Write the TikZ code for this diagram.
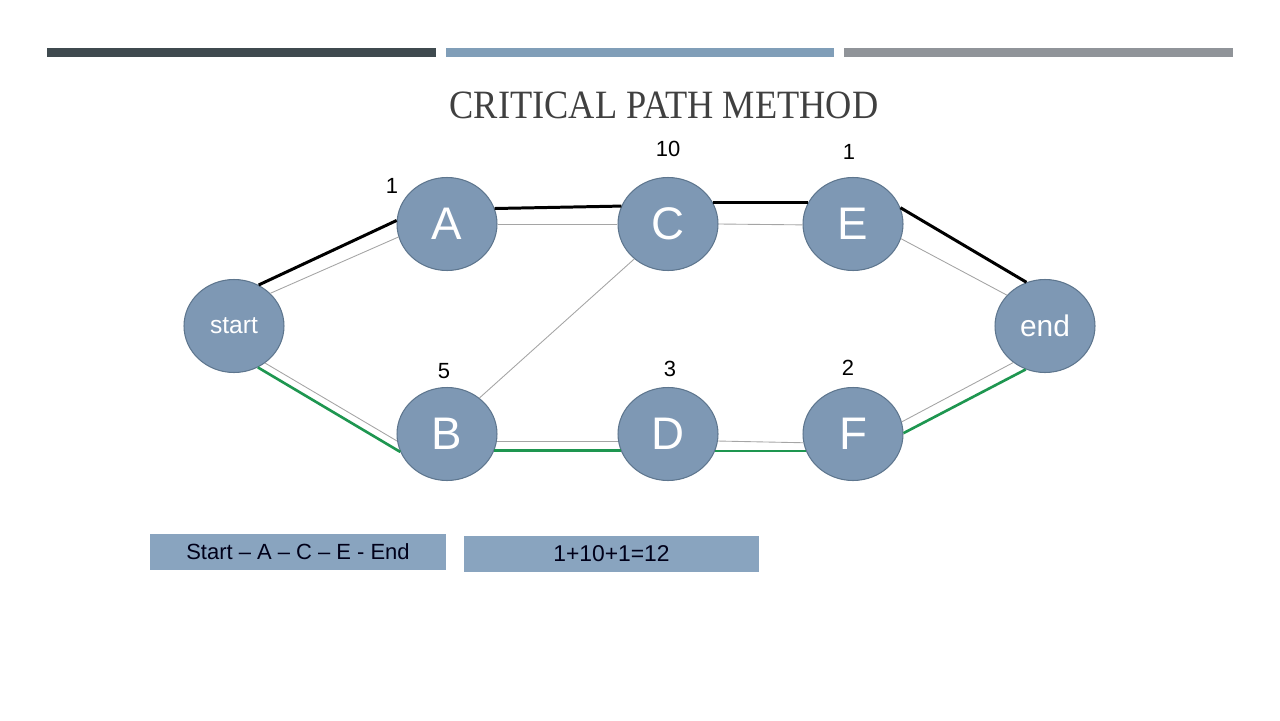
\documentclass[tikz,border=0pt]{standalone}
\usepackage{fontspec}
\usepackage{graphicx}
\setmainfont{Liberation Sans}
\newfontfamily\titlefont{Liberation Serif}
\usetikzlibrary{shapes.geometric}

\definecolor{nodeblue}{RGB}{126,152,180}
\definecolor{nodeline}{RGB}{94,118,142}
\definecolor{boxblue}{RGB}{137,164,191}
\definecolor{bardark}{RGB}{63,74,79}
\definecolor{barblue}{RGB}{128,158,184}
\definecolor{bargray}{RGB}{144,148,153}
\definecolor{critgreen}{RGB}{30,150,80}
\definecolor{thingray}{RGB}{165,165,165}
\definecolor{titlegray}{RGB}{64,64,64}

\begin{document}
\begin{tikzpicture}[x=0.02cm,y=-0.02cm]
  \tikzset{vertex/.style = {ellipse,draw=nodeline,fill=nodeblue,line width=0.6pt,minimum width=2cm,minimum height=1.86cm,inner sep=0pt,text=white,font=\fontsize{26}{26}\selectfont}}
  \tikzset{weight/.style = {inner sep=0pt,font=\fontsize{12.5}{12.5}\selectfont}}
  \tikzset{pathbox/.style = {fill=boxblue,minimum width=5.92cm,minimum height=0.72cm,inner sep=0pt,text={black!90!blue},font=\fontsize{12.5}{12.5}\selectfont}}
  \tikzset{link/.style = {-,draw=thingray,line width=0.5pt}}
  \tikzset{critlink/.style = {-,draw=black,line width=1.7pt}}
  \tikzset{greenlink/.style = {-,draw=critgreen,line width=1.5pt}}

\useasboundingbox (0,0) rectangle (1280,720);

% top bars
\fill[bardark] (47,48) rectangle (436,57);
\fill[barblue] (446,48) rectangle (834,57);
\fill[bargray] (844,48) rectangle (1233,57);

\node[text=titlegray,font=\titlefont\fontsize{22}{22}\selectfont] (title) at (664,105) {\scalebox{0.94}[1.04]{CRITICAL PATH METHOD}};

\node[vertex,font=\fontsize{14}{14}\selectfont] (start) at (234,326) {start};
\node[vertex] (A) at (447,224) {A};
\node[vertex] (C) at (668,224) {C};
\node[vertex] (E) at (853,224) {E};
\node[vertex,font=\fontsize{17}{17}\selectfont] (end) at (1045,326) {end};
\node[vertex] (B) at (447,434) {B};
\node[vertex] (D) at (668,434) {D};
\node[vertex] (F) at (853,434) {F};

\node[weight] (wA) at (392,186) {1};
\node[weight] (wC) at (668,149) {10};
\node[weight] (wE) at (849,152) {1};
\node[weight] (wB) at (444,371) {5};
\node[weight] (wD) at (670,369) {3};
\node[weight] (wF) at (848,368) {2};

% upper path
    \path (start.42) edge[link] (A.195);
    \path (start.59) edge[critlink] (A.176);
      \path (A.0) edge[link] (C.180);
      \path (A.18) edge[critlink] (C.159);
        \path (C.0) edge[link] (E.181);
        \path (C.25) edge[critlink] (E.155);
      \path (E.343) edge[link] (end.141);
      \path (E.19) edge[critlink] (end.113);

% lower path
    \path (start.310) edge[link] (B.188);
    \path (start.300) edge[greenlink] (B.201);
      \path (B.352) edge[link] (D.188);
      \path (B.341) edge[greenlink] (D.199);
        \path (D.352) edge[link] (F.190);
        \path (D.340) edge[greenlink] (F.200);
      \path (F.14) edge[link] (end.229);
      \path (F.1) edge[greenlink] (end.246);

    \path (B.48) edge[link] (C.226);

\node[pathbox] (route) at (298,552) {Start – A – C – E - End};
\node[pathbox,font=\fontsize{13}{13}\selectfont] (total) at (611.5,553.5) {1+10+1=12};

\end{tikzpicture}
\end{document}
